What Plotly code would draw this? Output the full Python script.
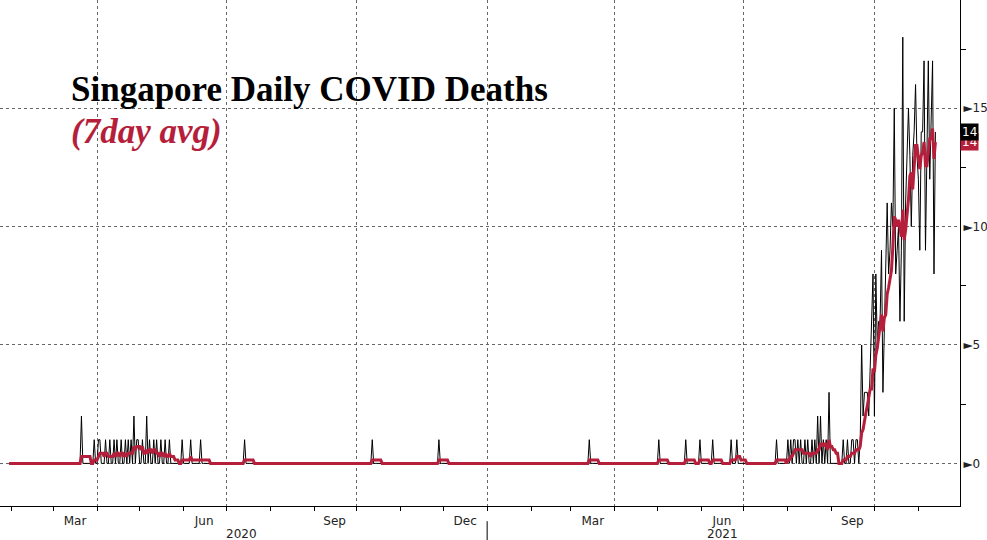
import pandas as pd
import plotly.graph_objects as go

# days with at least one reported death (all other days are zero)
death_dates = [
    "2020-03-21", "2020-03-30", "2020-04-02", "2020-04-03", "2020-04-07", "2020-04-10",
    "2020-04-13", "2020-04-15", "2020-04-18", "2020-04-21", "2020-04-23", "2020-04-25",
    "2020-04-27", "2020-04-29", "2020-04-30", "2020-05-03", "2020-05-06", "2020-05-08",
    "2020-05-11", "2020-05-13", "2020-05-16", "2020-05-19", "2020-05-22", "2020-05-31",
    "2020-06-06", "2020-06-13", "2020-07-14", "2020-10-12", "2020-11-28",
    "2021-03-14", "2021-05-02", "2021-05-21", "2021-05-31", "2021-06-09", "2021-06-22",
    "2021-06-26", "2021-07-24", "2021-08-01", "2021-08-03", "2021-08-05", "2021-08-06",
    "2021-08-08", "2021-08-10", "2021-08-13", "2021-08-15", "2021-08-18", "2021-08-20",
    "2021-08-22", "2021-08-24", "2021-08-26", "2021-08-28", "2021-08-30",
    "2021-09-09", "2021-09-12", "2021-09-15", "2021-09-16", "2021-09-18", "2021-09-19",
    "2021-09-21", "2021-09-22", "2021-09-23", "2021-09-24", "2021-09-25", "2021-09-26",
    "2021-09-27", "2021-09-28", "2021-09-29", "2021-09-30",
    "2021-10-01", "2021-10-02", "2021-10-03", "2021-10-04", "2021-10-05", "2021-10-06",
    "2021-10-07", "2021-10-08", "2021-10-09", "2021-10-10", "2021-10-11", "2021-10-12",
    "2021-10-13", "2021-10-14", "2021-10-15", "2021-10-16", "2021-10-17", "2021-10-18",
    "2021-10-19", "2021-10-20", "2021-10-21", "2021-10-22", "2021-10-23", "2021-10-24",
    "2021-10-25", "2021-10-26", "2021-10-27", "2021-10-28", "2021-10-29", "2021-10-30",
    "2021-10-31", "2021-11-01", "2021-11-02", "2021-11-03", "2021-11-04", "2021-11-05",
    "2021-11-06", "2021-11-07", "2021-11-08", "2021-11-09", "2021-11-10", "2021-11-11",
    "2021-11-12", "2021-11-13",
]
death_counts = [
    2, 1, 1, 1, 1, 1,
    1, 1, 1, 1, 1, 1,
    2, 1, 1, 1, 2, 1,
    1, 1, 1, 1, 1, 1,
    1, 1, 1, 1, 1,
    1, 1, 1, 1, 1, 1,
    1, 1, 1, 1, 1, 1,
    1, 1, 1, 1, 1, 1,
    2, 2, 1, 1, 3,
    1, 1, 1, 1, 1, 1,
    1, 5, 2, 3, 3, 3,
    2, 4, 5, 8,
    2, 8, 5, 6, 6, 9,
    3, 6, 9, 11, 8, 9,
    11, 10, 15, 8, 9, 10,
    6, 9, 18, 6, 11, 13,
    15, 13, 10, 13, 14, 16,
    13, 12, 9, 14, 14, 17,
    9, 13, 17, 12, 14, 17,
    8, 14,
]

series_start = "2020-01-30"
series_end = "2021-11-13"

quarter_ticks = ["2020-04-01", "2020-07-01", "2020-10-01", "2021-01-01",
                 "2021-04-01", "2021-07-01", "2021-10-01"]
quarter_labels = ["Mar", "Jun", "Sep", "Dec", "Mar", "Jun", "Sep"]
year_centers = ["2020-07-12", "2021-06-16"]
year_labels = ["2020", "2021"]
y_ticks = [0, 5, 10, 15]
y_minor = [2.5, 7.5, 12.5, 17.5]

RED = "#b61f3b"

days = pd.date_range(series_start, series_end, freq="D")
daily = pd.Series(0.0, index=days)
daily.loc[pd.to_datetime(death_dates)] = death_counts
avg7 = daily.rolling(7, min_periods=1).mean()

fig = go.Figure()
fig.add_trace(go.Scatter(x=daily.index, y=daily.values, mode="lines",
                         line=dict(color="black", width=1), hoverinfo="skip"))
fig.add_trace(go.Scatter(x=avg7.index, y=avg7.values, mode="lines",
                         line=dict(color=RED, width=3)))

grid = dict(showgrid=True, gridcolor="#666", griddash="dot", gridwidth=1)
tick_font = dict(family="DejaVu Sans", size=12, color="#222")

fig.update_layout(
    width=987, height=540,
    margin=dict(l=0, r=27, t=0, b=34),
    plot_bgcolor="white", paper_bgcolor="white",
    showlegend=False,
    xaxis=dict(
        range=["2020-01-23 14:00", "2021-11-30 08:00"], automargin=False,
        tickvals=quarter_ticks, ticktext=quarter_labels, ticklabelshift=-22,
        ticks="outside", ticklen=4, tickcolor="black",
        showline=True, linecolor="black", linewidth=1,
        minor=dict(dtick="M1", tick0="2020-01-01", ticks="outside", ticklen=4,
                   tickcolor="black", showgrid=False),
        tickfont=tick_font, **grid,
    ),
    yaxis=dict(
        side="right", range=[-1.8, 19.57], automargin=False,
        tickvals=y_ticks, ticktext=["\u25ba" + str(v) for v in y_ticks],
        ticks="", ticklabelstandoff=0,
        showline=True, linecolor="black", linewidth=1, zeroline=False,
        minor=dict(tickvals=y_minor, ticks="outside", ticklen=5,
                   tickcolor="black", showgrid=False),
        tickfont=dict(family="DejaVu Sans", size=12, color="#222"), **grid,
    ),
)

for xc, lab in zip(year_centers, year_labels):
    fig.add_annotation(x=xc, xref="x", y=-0.056, yref="paper", text=lab,
                       showarrow=False, font=tick_font, yanchor="middle")

fig.add_shape(type="line", xref="x", yref="paper", x0="2021-01-01", x1="2021-01-01",
              y0=-0.03, y1=-0.07, line=dict(color="black", width=1))

fig.add_annotation(x=0.072, xref="paper", y=0.823, yref="paper", xanchor="left",
                   yanchor="middle", showarrow=False,
                   text="<b>Singapore Daily COVID Deaths</b>",
                   font=dict(family="Liberation Serif", size=35, color="black"))
fig.add_annotation(x=0.072, xref="paper", y=0.74, yref="paper", xanchor="left",
                   yanchor="middle", showarrow=False,
                   text="<b><i>(7day avg)</i></b>",
                   font=dict(family="Liberation Serif", size=35, color=RED))

# last-value tags on the right axis
fig.add_annotation(x=1.0, xref="paper", y=avg7.iloc[-1], yref="y", xanchor="left",
                   showarrow=False, text=f"{avg7.iloc[-1]:.0f}", bgcolor=RED,
                   font=dict(family="DejaVu Sans", size=12, color="white"), borderpad=1)
fig.add_annotation(x=1.0, xref="paper", y=daily.iloc[-1], yref="y", xanchor="left",
                   showarrow=False, text=f"{daily.iloc[-1]:.0f}", bgcolor="black",
                   font=dict(family="DejaVu Sans", size=12, color="white"), borderpad=1)

fig.write_html("out.html", config={"displayModeBar": False},
               post_script="document.body.style.margin='0';")
